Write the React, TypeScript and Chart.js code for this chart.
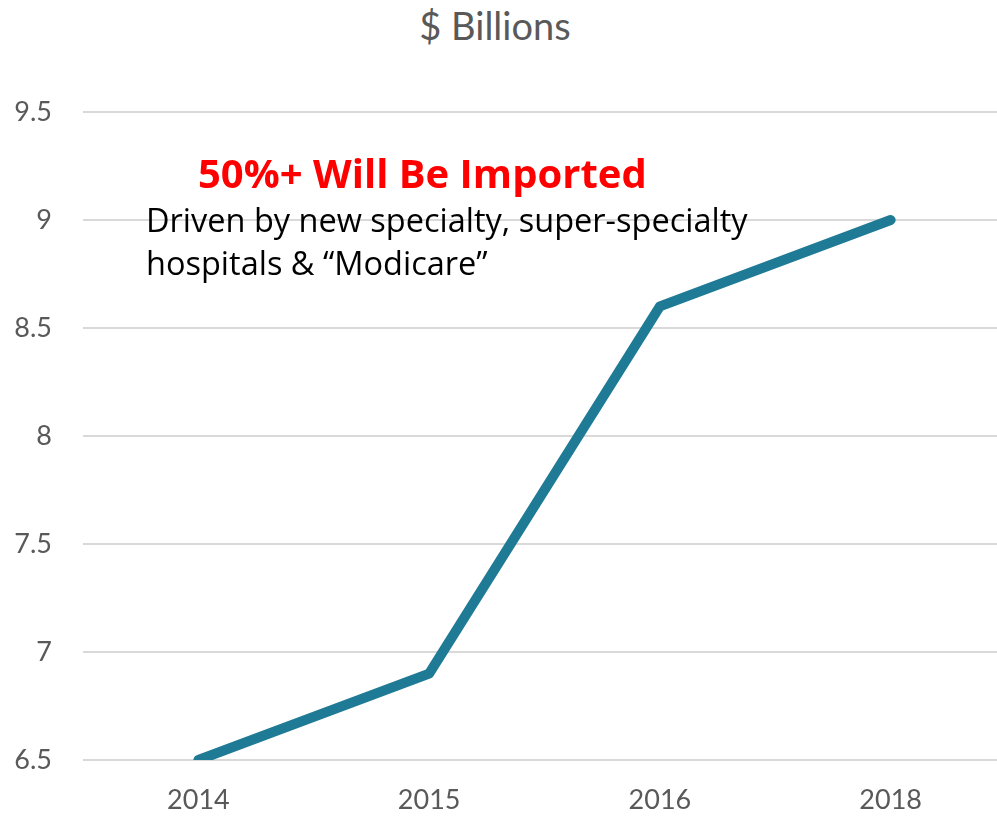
import React, { useEffect, useRef } from "react";
import { Chart, registerables } from "chart.js";

Chart.register(...registerables);

const categories = ["2014", "2015", "2016", "2018"];
const values = [6.5, 6.9, 8.6, 9.0];
const yMin = 6.5;
const yMax = 9.5;
const yStep = 0.5;
const titleText = "$ Billions";
const headline = "50%+ Will Be Imported";
const noteLines = ["Driven by new specialty, super-specialty", "hospitals & \u201cModicare\u201d"];

const FONT = "Lato, 'Open Sans', sans-serif";
const NOTE_FONT = "'Open Sans', Lato, sans-serif";
const GRAY = "#595959";

export default function App() {
  const ref = useRef<HTMLCanvasElement | null>(null);

  useEffect(() => {
    if (!ref.current) return;
    const notePlugin = {
      id: "notes",
      afterDraw(chart: any) {
        const ctx = chart.ctx;
        ctx.save();
        ctx.textAlign = "left";
        ctx.textBaseline = "alphabetic";
        ctx.fillStyle = "#FF0000";
        ctx.font = `bold 40px ${NOTE_FONT}`;
        ctx.fillText(headline, 198, 188);
        ctx.fillStyle = "#000000";
        ctx.font = `32.5px ${NOTE_FONT}`;
        ctx.fillText(noteLines[0], 146, 232);
        ctx.fillText(noteLines[1], 146, 275);
        ctx.restore();
      },
    };
    const chart = new Chart(ref.current, {
      type: "line",
      data: {
        labels: categories,
        datasets: [
          {
            data: values,
            borderColor: "#1F7B95",
            backgroundColor: "#1F7B95",
            borderWidth: 10,
            pointRadius: 0,
            tension: 0,
            borderCapStyle: "round",
            borderJoinStyle: "round",
            clip: 0,
          } as any,
        ],
      },
      options: {
        responsive: false,
        animation: false,
        maintainAspectRatio: false,
        layout: { padding: { top: 112, left: 0, right: 0, bottom: 0 } },
        plugins: {
          legend: { display: false },
          tooltip: { enabled: false },
          title: { display: false },
        },
        scales: {
          x: {
            offset: true,
            grid: { display: false, drawTicks: false },
            border: { display: false },
            ticks: {
              color: GRAY,
              font: { family: FONT, size: 27 },
              padding: 24,
              maxRotation: 0,
            },
            afterFit(scale: any) {
              scale.height = 56;
            },
          },
          y: {
            min: yMin,
            max: yMax,
            grid: { color: "#D9D9D9", lineWidth: 2, drawTicks: false },
            border: { display: false },
            ticks: {
              stepSize: yStep,
              color: GRAY,
              font: { family: FONT, size: 27 },
              padding: 31,
              callback: (v: any) => `${v}`,
            },
            afterFit(scale: any) {
              scale.width = 83;
            },
          },
        },
      },
      plugins: [notePlugin],
    });
    return () => chart.destroy();
  }, []);

  return (
    <div
      style={{
        position: "absolute",
        left: 0,
        top: 0,
        width: 997,
        height: 816,
        overflow: "hidden",
        background: "#ffffff",
      }}
    >
      <div
        style={{
          position: "absolute",
          left: 0,
          top: 2,
          width: 990,
          textAlign: "center",
          fontFamily: FONT,
          fontSize: 38,
          color: GRAY,
          lineHeight: "46px",
        }}
      >
        {titleText}
      </div>
      <canvas
        ref={ref}
        width={1006}
        height={816}
        style={{ position: "absolute", left: 0, top: 0, width: 1006, height: 816 }}
      />
    </div>
  );
}
